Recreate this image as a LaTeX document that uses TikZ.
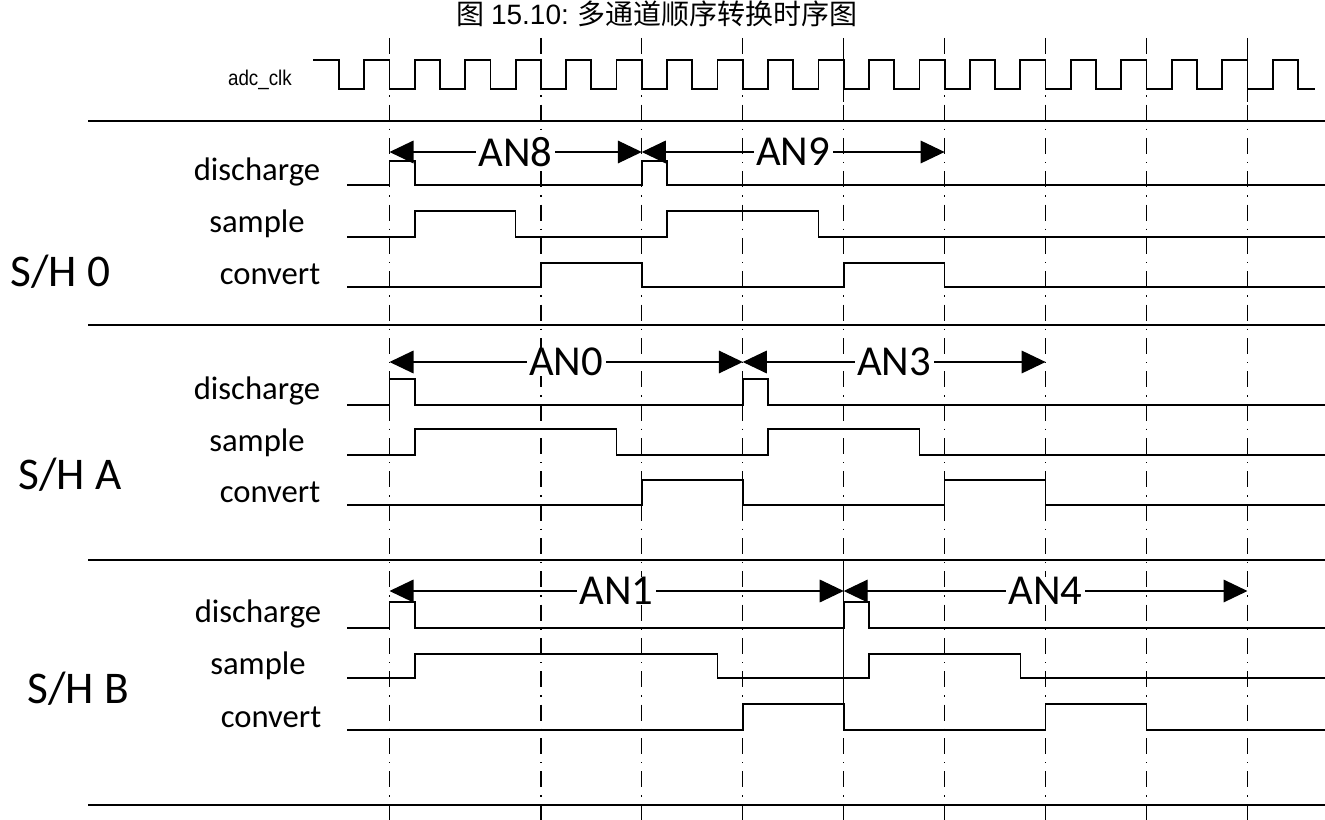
\documentclass[tikz,border=0pt]{standalone}
\usepackage{fontspec}
\setmainfont{Carlito}
\newfontfamily\cjk{Noto Sans CJK SC}
\newfontfamily\arial{Liberation Sans}
\usetikzlibrary{arrows.meta}
\begin{document}
\begin{tikzpicture}[x=0.75pt,y=-0.75pt,
  sig/.style={line width=1.3pt,line join=miter,line cap=butt},
  sep/.style={line width=1.3pt},
  grid/.style={line width=0.9pt,dash pattern=on 12pt off 6pt on 1pt off 6pt},
  span/.style={line width=0.9pt,{Triangle[length=18pt,width=17pt]}-{Triangle[length=18pt,width=17pt]}},
  anlab/.style={font=\fontsize{32}{36}\selectfont,fill=white,inner xsep=2pt,inner ysep=0pt},
  siglab/.style={font=\fontsize{24.5}{28}\selectfont,inner sep=0pt},
  grplab/.style={font=\fontsize{34}{38}\selectfont,inner sep=0pt,anchor=west}
]
\useasboundingbox (0,0) rectangle (1325,820);
% title
\node[inner sep=0pt] (title) at (657,14) {\fontsize{21}{25}\selectfont{\cjk 图} {\arial 15.10:} {\cjk 多通道顺序转换时序图}};
% dash-dot grid lines
\foreach \x in {389.5,540.9,641.8,742.8,944.6,1045.6,1146.5}
  \draw[grid] (\x,38) -- (\x,820);
\draw[grid] (843.7,38) -- (843.7,820);
\draw[grid] (1247.5,38) -- (1247.5,820);
\draw[line width=0.9pt] (843.7,52) -- (843.7,102);
\draw[line width=0.9pt] (1247.5,52) -- (1247.5,102);
\draw[line width=0.9pt] (843.7,560) -- (843.7,730);
% separators
\foreach \y in {121,325,560,805}
  \draw[sep] (88,\y) -- (1325,\y);
% clock
\node[inner sep=0pt,anchor=east,xscale=0.88,font=\arial\fontsize{16}{19}\selectfont] (clk) at (292,80) {adc\_clk};
\draw[sig] (313,60) -- (339,60)
  \foreach \i in {1,...,19} { -- ++(0,29) -- ++(25.235,0) -- ++(0,-29) -- ++(25.235,0) }
  -- ++(0,29) -- (1315,89);
% group labels
\node[grplab] (g0) at (10,272) {S/H 0};
\node[grplab] (gA) at (18,475) {S/H A};
\node[grplab] (gB) at (27,689) {S/H B};
% signal labels
\node[siglab] (d0) at (257,172) {discharge};
\node[siglab] (s0) at (257,224) {sample};
\node[siglab] (c0) at (270,274) {convert};
\node[siglab] (d1) at (257,391) {discharge};
\node[siglab] (s1) at (257,443) {sample};
\node[siglab] (c1) at (270,492) {convert};
\node[siglab] (d2) at (258,614) {discharge};
\node[siglab] (s2) at (258,666) {sample};
\node[siglab] (c2) at (271,717) {convert};
% group S/H 0
\draw[sig] (347,185) -- (389.5,185) -- (389.5,161) -- (414.7,161) -- (414.7,185) -- (641.8,185) -- (641.8,161) -- (667.1,161) -- (667.1,185) -- (1325,185);
\draw[sig] (347,237) -- (414.7,237) -- (414.7,211) -- (515.6,211) -- (515.6,237) -- (667.1,237) -- (667.1,211) -- (818.5,211) -- (818.5,237) -- (1325,237);
\draw[sig] (347,287) -- (540.9,287) -- (540.9,263) -- (641.8,263) -- (641.8,287) -- (843.7,287) -- (843.7,263) -- (944.6,263) -- (944.6,287) -- (1325,287);
% group S/H A
\draw[sig] (347,405) -- (389.5,405) -- (389.5,379) -- (414.7,379) -- (414.7,405) -- (742.8,405) -- (742.8,379) -- (768.0,379) -- (768.0,405) -- (1325,405);
\draw[sig] (347,455) -- (414.7,455) -- (414.7,429) -- (616.6,429) -- (616.6,455) -- (768.0,455) -- (768.0,429) -- (919.4,429) -- (919.4,455) -- (1325,455);
\draw[sig] (347,505) -- (641.8,505) -- (641.8,480) -- (742.8,480) -- (742.8,505) -- (944.6,505) -- (944.6,480) -- (1045.6,480) -- (1045.6,505) -- (1325,505);
% group S/H B
\draw[sig] (347,628) -- (389.5,628) -- (389.5,602) -- (414.7,602) -- (414.7,628) -- (843.7,628) -- (843.7,602) -- (868.9,602) -- (868.9,628) -- (1325,628);
\draw[sig] (347,678) -- (414.7,678) -- (414.7,654) -- (717.5,654) -- (717.5,678) -- (868.9,678) -- (868.9,654) -- (1020.4,654) -- (1020.4,678) -- (1325,678);
\draw[sig] (347,730) -- (742.8,730) -- (742.8,704) -- (843.7,704) -- (843.7,730) -- (1045.6,730) -- (1045.6,704) -- (1146.5,704) -- (1146.5,730) -- (1325,730);
% spans
\coordinate (a0) at (389.5,152);
\coordinate (a1) at (641.8,152);
\coordinate (a2) at (944.6,152);
\coordinate (b0) at (389.5,362);
\coordinate (b1) at (742.8,362);
\coordinate (b2) at (1045.6,362);
\coordinate (c0p) at (389.5,591);
\coordinate (c1p) at (843.7,591);
\coordinate (c2p) at (1247.5,591);
\draw[span] (a0) -- node[anlab] (an8) {AN8} (a1);
\draw[span] (a1) -- node[anlab] (an9) {AN9} (a2);
\draw[span] (b0) -- node[anlab] (an0) {AN0} (b1);
\draw[span] (b1) -- node[anlab] (an3) {AN3} (b2);
\draw[span] (c0p) -- node[anlab] (an1) {AN1} (c1p);
\draw[span] (c1p) -- node[anlab] (an4) {AN4} (c2p);
\end{tikzpicture}
\end{document}
